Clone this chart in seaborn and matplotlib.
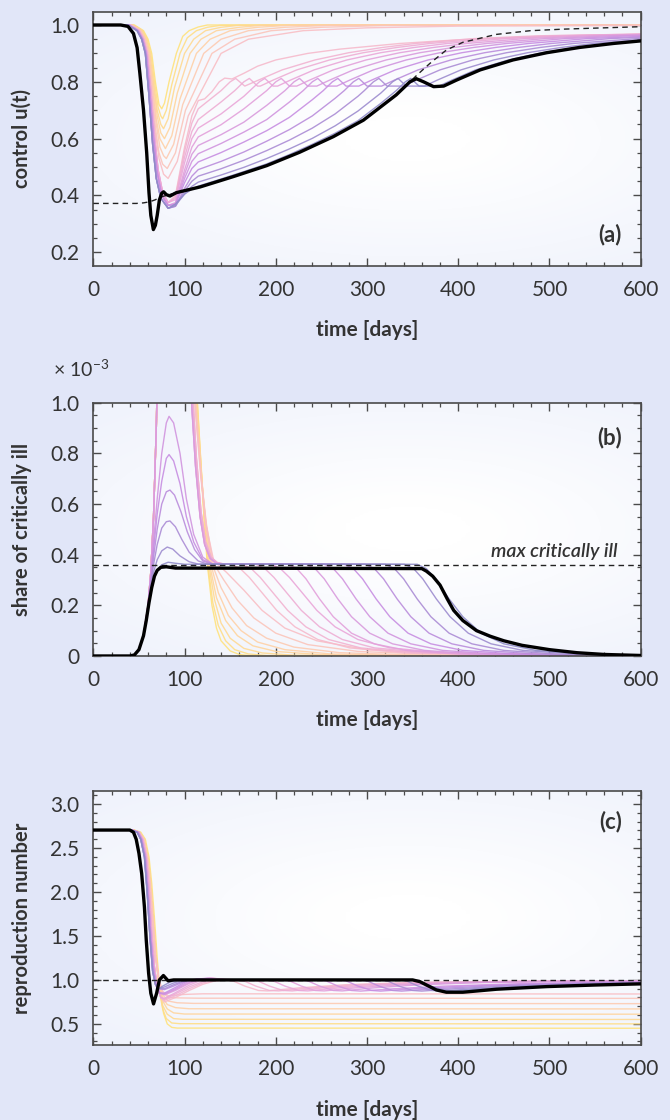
import numpy as np
import pandas as pd
import matplotlib
matplotlib.use('Agg')
import matplotlib.pyplot as plt
from matplotlib.colors import LinearSegmentedColormap
from matplotlib.ticker import MultipleLocator
import seaborn as sns

# ---------------- data ----------------
x_ticks = [0, 100, 200, 300, 400, 500, 600]
u_ticks = [0.2, 0.4, 0.6, 0.8, 1.0]
u_tick_labels = ['0.2', '0.4', '0.6', '0.8', '1.0']
ill_ticks = [0, 0.2, 0.4, 0.6, 0.8, 1.0]
ill_tick_labels = ['0', '0.2', '0.4', '0.6', '0.8', '1.0']
r_ticks = [0.5, 1.0, 1.5, 2.0, 2.5, 3.0]
r_tick_labels = ['0.5', '1.0', '1.5', '2.0', '2.5', '3.0']

ill_max = 0.36      # x 1e-3
r_critical = 1.0

# (a) control u(t): optimal solution (black) and dashed reference
u_black = [(0, 1.0), (30, 1.0), (38, 0.995), (44, 0.97), (48, 0.92), (51, 0.83), (55, 0.70),
           (58.5, 0.55), (61, 0.41), (63, 0.33), (65.8, 0.28), (68, 0.295), (70, 0.33),
           (72.4, 0.384), (75, 0.408), (77, 0.413), (80, 0.403), (84, 0.398), (91, 0.41),
           (117, 0.43), (153, 0.466), (190, 0.505), (226, 0.552), (263, 0.607), (296, 0.665),
           (332, 0.754), (347, 0.80), (354, 0.811), (362, 0.80), (373, 0.783), (384, 0.785),
           (398, 0.806), (424, 0.842), (460, 0.877), (497, 0.9025), (533, 0.921), (570, 0.935),
           (600, 0.944)]
u_dashed = [(0, 0.372), (47, 0.372), (55, 0.374), (62, 0.378), (68, 0.385), (73, 0.394),
            (80, 0.40), (91, 0.41), (117, 0.43), (153, 0.466), (190, 0.505), (226, 0.552),
            (263, 0.607), (296, 0.665), (332, 0.754), (347, 0.80), (356, 0.8275), (369, 0.865),
            (387, 0.912), (405, 0.939), (442, 0.967), (479, 0.98), (516, 0.9855), (560, 0.99),
            (600, 0.994)]

u_drop_a = [(0, 1.0), (40, 1.0), (50, 0.98), (55, 0.95), (59, 0.9), (63, 0.77), (67, 0.61),
            (71, 0.49), (76, 0.41), (82, 0.375)]
u_drop_b = [(0, 1.0), (39, 1.0), (49, 0.98), (54, 0.95), (58, 0.9), (62, 0.76), (66, 0.6),
            (70, 0.48), (75, 0.4), (82, 0.365)]
u_drop_c = [(0, 1.0), (38, 1.0), (48, 0.98), (53, 0.95), (57, 0.9), (61, 0.75), (65, 0.58),
            (69, 0.46), (74, 0.39), (82, 0.355)]

u_family = [
    [(0, 1.0), (45, 1.0), (55, 0.98), (60, 0.95), (64, 0.9), (68, 0.8), (72, 0.72), (75, 0.705),
     (78, 0.725), (83, 0.8), (91, 0.9), (98, 0.96), (105, 0.98), (115, 0.993), (125, 1.0), (600, 1.0)],
    [(0, 1.0), (44, 1.0), (54, 0.98), (59, 0.95), (63, 0.9), (67, 0.8), (71, 0.71), (74, 0.68),
     (76, 0.67), (80, 0.7), (86, 0.79), (95, 0.9), (103, 0.955), (113, 0.98), (125, 0.992),
     (140, 0.999), (600, 1.0)],
    [(0, 1.0), (43, 1.0), (53, 0.98), (58, 0.95), (62, 0.9), (66, 0.8), (70, 0.7), (74, 0.65),
     (77, 0.635), (82, 0.67), (89, 0.78), (100, 0.9), (110, 0.95), (123, 0.98), (140, 0.992),
     (160, 0.999), (600, 1.0)],
    [(0, 1.0), (43, 1.0), (53, 0.98), (58, 0.95), (62, 0.9), (66, 0.79), (70, 0.68), (74, 0.62),
     (78, 0.6), (84, 0.64), (92, 0.76), (106, 0.9), (118, 0.95), (135, 0.98), (160, 0.992),
     (185, 0.999), (600, 1.0)],
    [(0, 1.0), (42, 1.0), (52, 0.98), (57, 0.95), (61, 0.9), (65, 0.79), (69, 0.67), (73, 0.6),
     (79, 0.565), (86, 0.61), (95, 0.74), (113, 0.9), (128, 0.95), (150, 0.98), (180, 0.992),
     (215, 0.999), (600, 1.0)],
    [(0, 1.0), (42, 1.0), (52, 0.98), (57, 0.95), (61, 0.9), (65, 0.78), (69, 0.65), (73, 0.57),
     (77, 0.54), (80, 0.53), (88, 0.58), (98, 0.72), (121, 0.9), (140, 0.95), (170, 0.98),
     (210, 0.992), (260, 0.999), (600, 1.0)],
    [(0, 1.0), (41, 1.0), (51, 0.98), (56, 0.95), (60, 0.9), (64, 0.78), (68, 0.64), (72, 0.55),
     (76, 0.51), (81, 0.495), (90, 0.55), (101, 0.7), (130, 0.9), (155, 0.95), (195, 0.98),
     (250, 0.992), (320, 0.998), (600, 1.0)],
    [(0, 1.0), (41, 1.0), (51, 0.98), (56, 0.95), (60, 0.9), (64, 0.77), (68, 0.62), (72, 0.53),
     (77, 0.475), (82, 0.46), (92, 0.52), (104, 0.68), (140, 0.9), (170, 0.95), (230, 0.98),
     (300, 0.99), (400, 0.996), (600, 0.998)],
    u_drop_a + [(90, 0.40), (100, 0.57), (108, 0.68), (115, 0.734), (122, 0.74), (130, 0.765),
                (138, 0.80), (144, 0.813), (152, 0.81), (165, 0.83), (180, 0.855), (200, 0.877),
                (235, 0.90), (270, 0.915), (336, 0.935), (400, 0.948), (450, 0.955), (520, 0.962),
                (600, 0.967)],
    u_drop_a + [(90, 0.395), (100, 0.555), (108, 0.655), (115, 0.705), (140, 0.769), (150, 0.80),
                (156, 0.812), (166, 0.785), (181, 0.806), (207, 0.842), (243, 0.877), (280, 0.9025),
                (317, 0.921), (353, 0.935), (417, 0.952), (487, 0.962), (600, 0.968)],
    u_drop_a + [(90, 0.39), (100, 0.535), (108, 0.625), (115, 0.667), (140, 0.729), (155, 0.769),
                (165, 0.80), (171, 0.812), (180, 0.785), (183, 0.785), (197, 0.806), (223, 0.842),
                (259, 0.877), (296, 0.9025), (333, 0.921), (369, 0.935), (433, 0.952), (503, 0.962),
                (600, 0.968)],
    u_drop_a + [(90, 0.385), (100, 0.515), (108, 0.60), (115, 0.637), (140, 0.687), (165, 0.749),
                (182, 0.80), (188, 0.812), (197, 0.785), (202, 0.785), (216, 0.806), (242, 0.842),
                (278, 0.877), (315, 0.9025), (352, 0.921), (388, 0.935), (452, 0.952), (522, 0.962),
                (600, 0.967)],
    u_drop_b + [(90, 0.375), (100, 0.49), (108, 0.57), (115, 0.606), (140, 0.649), (165, 0.705),
                (190, 0.769), (200, 0.80), (206, 0.812), (215, 0.785), (223, 0.785), (237, 0.806),
                (263, 0.842), (299, 0.877), (336, 0.9025), (373, 0.921), (409, 0.935), (473, 0.952),
                (543, 0.962), (600, 0.966)],
    u_drop_b + [(90, 0.372), (100, 0.475), (108, 0.545), (115, 0.576), (140, 0.614), (165, 0.658),
                (190, 0.717), (210, 0.769), (220, 0.80), (226, 0.812), (235, 0.785), (245, 0.785),
                (259, 0.806), (285, 0.842), (321, 0.877), (358, 0.9025), (395, 0.921), (431, 0.935),
                (495, 0.952), (565, 0.962), (600, 0.965)],
    u_drop_b + [(90, 0.37), (100, 0.46), (108, 0.52), (115, 0.547), (140, 0.583), (165, 0.623),
                (190, 0.667), (215, 0.729), (230, 0.769), (240, 0.80), (246, 0.812), (255, 0.785),
                (267, 0.785), (281, 0.806), (307, 0.842), (343, 0.877), (380, 0.9025), (417, 0.921),
                (453, 0.935), (517, 0.952), (587, 0.962), (600, 0.963)],
    u_drop_b + [(90, 0.368), (100, 0.445), (108, 0.495), (115, 0.518), (140, 0.551), (165, 0.588),
                (190, 0.628), (215, 0.675), (240, 0.737), (252, 0.769), (262, 0.80), (268, 0.812),
                (277, 0.785), (291, 0.785), (305, 0.806), (331, 0.842), (367, 0.877), (404, 0.9025),
                (441, 0.921), (477, 0.935), (541, 0.952), (600, 0.96)],
    u_drop_c + [(90, 0.362), (100, 0.425), (108, 0.468), (115, 0.491), (140, 0.52), (165, 0.553),
                (190, 0.591), (215, 0.632), (240, 0.68), (265, 0.742), (275, 0.769), (285, 0.80),
                (291, 0.812), (300, 0.785), (316, 0.785), (330, 0.806), (356, 0.842), (392, 0.877),
                (429, 0.9025), (466, 0.921), (502, 0.935), (566, 0.952), (600, 0.957)],
    u_drop_c + [(90, 0.362), (100, 0.415), (108, 0.45), (115, 0.468), (140, 0.494), (165, 0.524),
                (190, 0.558), (215, 0.595), (240, 0.637), (265, 0.687), (290, 0.749), (297, 0.769),
                (307, 0.80), (313, 0.812), (322, 0.785), (340, 0.785), (354, 0.806), (380, 0.842),
                (416, 0.877), (453, 0.9025), (490, 0.921), (526, 0.935), (600, 0.953)],
    u_drop_c + [(90, 0.365), (100, 0.405), (108, 0.432), (115, 0.447), (140, 0.472), (165, 0.499),
                (190, 0.53), (215, 0.564), (240, 0.601), (265, 0.645), (290, 0.697), (315, 0.76),
                (318, 0.769), (328, 0.80), (334, 0.812), (343, 0.785), (363, 0.785), (377, 0.806),
                (403, 0.842), (439, 0.877), (476, 0.9025), (513, 0.921), (549, 0.935), (600, 0.948)],
    u_drop_c + [(90, 0.37), (100, 0.405), (108, 0.422), (115, 0.433), (140, 0.458), (165, 0.484),
                (190, 0.511), (215, 0.544), (240, 0.58), (265, 0.619), (290, 0.663), (315, 0.724),
                (332, 0.769), (342, 0.80), (348, 0.812), (357, 0.785), (379, 0.785), (393, 0.806),
                (419, 0.842), (455, 0.877), (492, 0.9025), (529, 0.921), (565, 0.935), (600, 0.945)],
]

# (b) share of critically ill, in units of 1e-3
ill_black = [(0, 0), (40, 0), (45, 0.004), (50, 0.025), (55, 0.08), (58, 0.14), (61, 0.21),
             (64, 0.27), (67, 0.315), (70, 0.338), (74, 0.35), (80, 0.352), (90, 0.347),
             (360, 0.345), (365, 0.335), (372, 0.315), (380, 0.28), (388, 0.225), (395, 0.18),
             (405, 0.14), (420, 0.10), (435, 0.078), (450, 0.06), (470, 0.042), (500, 0.025),
             (530, 0.013), (560, 0.006), (600, 0.002)]
ill_rise = [(0, 0), (40, 0), (45, 0.005), (50, 0.025), (55, 0.08), (60, 0.2), (63, 0.33),
            (66, 0.55), (69, 0.9), (72, 1.4), (80, 2.2)]
ill_start = [(0, 0), (40, 0), (45, 0.005), (50, 0.025), (55, 0.08)]

ill_family = [
    ill_rise + [(105, 1.6), (110, 1.25), (114, 1.0), (118, 0.75), (122, 0.5), (125, 0.36), (130, 0.2),
                (135, 0.11), (140, 0.06), (150, 0.02), (160, 0.006), (175, 0.0), (600, 0.0)],
    ill_rise + [(105, 1.6), (110, 1.25), (114, 1.0), (118, 0.76), (122, 0.52), (125.5, 0.36),
                (131, 0.21), (137, 0.12), (145, 0.06), (155, 0.025), (170, 0.008), (190, 0.002),
                (600, 0.0)],
    ill_rise + [(105, 1.55), (110, 1.2), (113.5, 1.0), (118, 0.75), (122, 0.53), (126.5, 0.36),
                (133, 0.22), (140, 0.13), (150, 0.07), (165, 0.03), (185, 0.012), (220, 0.003),
                (600, 0.0)],
    ill_rise + [(105, 1.5), (110, 1.18), (113, 1.0), (118, 0.74), (122, 0.54), (127.5, 0.36),
                (135, 0.23), (145, 0.14), (158, 0.08), (175, 0.04), (200, 0.018), (250, 0.005),
                (600, 0.0)],
    ill_rise + [(105, 1.45), (109, 1.18), (112.5, 1.0), (118, 0.73), (123, 0.53), (129, 0.36),
                (137, 0.25), (148, 0.16), (162, 0.1), (180, 0.055), (210, 0.025), (260, 0.008),
                (350, 0.002), (600, 0.0)],
    ill_rise + [(105, 1.4), (109, 1.15), (112, 1.0), (118, 0.72), (123, 0.53), (130, 0.365),
                (140, 0.27), (152, 0.19), (168, 0.12), (190, 0.07), (220, 0.035), (270, 0.013),
                (350, 0.004), (600, 0.001)],
    ill_rise + [(104, 1.4), (108, 1.15), (111.5, 1.0), (118, 0.71), (124, 0.52), (131, 0.37),
                (143, 0.3), (158, 0.22), (176, 0.15), (200, 0.09), (235, 0.045), (290, 0.018),
                (380, 0.005), (600, 0.001)],
    ill_rise + [(104, 1.35), (108, 1.12), (111, 1.0), (118, 0.7), (124, 0.51), (132, 0.375),
                (146, 0.33), (165, 0.26), (185, 0.18), (210, 0.11), (245, 0.06), (300, 0.025),
                (400, 0.007), (600, 0.001)],
    ill_rise + [(105, 1.3), (109, 1.02), (113, 0.78), (118, 0.57), (123, 0.45), (129, 0.39),
                (136, 0.368), (145, 0.362), (151, 0.362), (161, 0.345), (171, 0.31), (186, 0.245),
                (201, 0.18), (221, 0.115), (246, 0.065), (281, 0.032), (341, 0.012), (600, 0.001)],
    ill_rise + [(105, 1.3), (109, 1.02), (113, 0.78), (118, 0.57), (123, 0.45), (129, 0.39),
                (136, 0.368), (145, 0.362), (163, 0.362), (173, 0.345), (183, 0.31), (198, 0.245),
                (213, 0.18), (233, 0.115), (258, 0.065), (293, 0.032), (353, 0.012), (600, 0.001)],
    ill_rise + [(105, 1.3), (109, 1.02), (113, 0.78), (118, 0.57), (123, 0.45), (129, 0.39),
                (136, 0.368), (145, 0.362), (178, 0.362), (188, 0.345), (198, 0.31), (213, 0.245),
                (228, 0.18), (248, 0.115), (273, 0.065), (308, 0.032), (368, 0.012), (600, 0.001)],
    ill_rise + [(104, 1.25), (108, 0.98), (112, 0.75), (117, 0.55), (122, 0.44), (128, 0.385),
                (135, 0.366), (145, 0.362), (195, 0.362), (205, 0.345), (215, 0.31), (230, 0.245),
                (245, 0.18), (265, 0.115), (290, 0.065), (325, 0.032), (385, 0.012), (600, 0.001)],
    ill_rise + [(104, 1.25), (108, 0.98), (112, 0.75), (117, 0.55), (122, 0.44), (128, 0.385),
                (135, 0.366), (145, 0.362), (213, 0.362), (223, 0.345), (233, 0.305), (248, 0.225),
                (263, 0.155), (283, 0.09), (308, 0.048), (343, 0.022), (403, 0.007), (600, 0.001)],
    ill_rise + [(104, 1.25), (108, 0.98), (112, 0.75), (117, 0.55), (122, 0.44), (128, 0.385),
                (135, 0.366), (145, 0.362), (233, 0.362), (243, 0.345), (253, 0.305), (268, 0.225),
                (283, 0.155), (303, 0.09), (328, 0.048), (363, 0.022), (423, 0.007), (600, 0.001)],
    ill_start + [(60, 0.2), (63, 0.31), (66, 0.45), (70, 0.62), (75, 0.8), (80, 0.92), (83, 0.946),
                 (88, 0.92), (95, 0.8), (102, 0.62), (110, 0.48), (120, 0.39), (130, 0.365),
                 (140, 0.362), (253, 0.362), (263, 0.345), (273, 0.305), (288, 0.225), (303, 0.155),
                 (323, 0.09), (348, 0.048), (383, 0.022), (443, 0.007), (600, 0.001)],
    ill_start + [(60, 0.2), (63, 0.3), (66, 0.42), (70, 0.56), (75, 0.69), (80, 0.78), (83, 0.795),
                 (88, 0.77), (95, 0.68), (102, 0.55), (110, 0.45), (120, 0.38), (130, 0.364),
                 (140, 0.362), (275, 0.362), (285, 0.345), (295, 0.305), (310, 0.225), (325, 0.155),
                 (345, 0.09), (370, 0.048), (405, 0.022), (465, 0.007), (600, 0.001)],
    ill_start + [(60, 0.2), (63, 0.29), (66, 0.39), (70, 0.5), (75, 0.6), (80, 0.648), (84, 0.655),
                 (89, 0.635), (96, 0.57), (103, 0.49), (111, 0.42), (120, 0.375), (130, 0.363),
                 (298, 0.362), (308, 0.345), (318, 0.305), (333, 0.225), (348, 0.155), (368, 0.09),
                 (393, 0.048), (428, 0.022), (488, 0.007), (600, 0.001)],
    ill_start + [(60, 0.19), (63, 0.28), (66, 0.36), (70, 0.44), (75, 0.505), (80, 0.53), (84, 0.533),
                 (90, 0.51), (97, 0.46), (105, 0.41), (115, 0.375), (125, 0.363), (320, 0.362),
                 (330, 0.345), (340, 0.305), (355, 0.225), (370, 0.155), (390, 0.09), (415, 0.048),
                 (450, 0.022), (510, 0.007), (600, 0.001)],
    ill_start + [(60, 0.19), (63, 0.27), (66, 0.33), (70, 0.38), (75, 0.415), (81, 0.43), (87, 0.422),
                 (95, 0.395), (105, 0.372), (115, 0.363), (341, 0.362), (351, 0.345), (361, 0.305),
                 (376, 0.225), (391, 0.155), (411, 0.09), (436, 0.048), (471, 0.022), (531, 0.007),
                 (600, 0.001)],
    ill_start + [(60, 0.18), (63, 0.25), (66, 0.305), (70, 0.34), (75, 0.36), (82, 0.37), (90, 0.366),
                 (100, 0.362), (355, 0.362), (365, 0.345), (375, 0.305), (390, 0.225), (405, 0.155),
                 (425, 0.09), (450, 0.048), (485, 0.022), (545, 0.007), (600, 0.001)],
]

# (c) reproduction number
r_black = [(0, 2.705), (40, 2.705), (44, 2.68), (47, 2.6), (50, 2.44), (53, 2.21), (56, 1.83),
           (58, 1.455), (60.6, 1.076), (63, 0.848), (66, 0.727), (69.4, 0.85), (72.4, 1.0),
           (76.8, 1.05), (82, 0.99), (88, 1.0), (350, 1.0), (358, 0.98), (365, 0.943),
           (376, 0.886), (387, 0.86), (405, 0.86), (442, 0.894), (497, 0.924), (550, 0.942),
           (600, 0.955)]

r_drop_y = [(0, 2.705), (45, 2.705), (52, 2.68), (57, 2.6), (61, 2.4), (64, 2.1), (67, 1.7), (70, 1.25)]
r_drop_p = [(0, 2.705), (44, 2.705), (51, 2.68), (56, 2.6), (60, 2.4), (63, 2.1), (66, 1.7), (69, 1.25)]
r_drop_q = [(0, 2.705), (43, 2.705), (50, 2.68), (55, 2.6), (59, 2.4), (62, 2.1), (65, 1.7), (68, 1.27)]
r_drop_a = [(0, 2.705), (43, 2.705), (50, 2.68), (54, 2.6), (58, 2.4), (61, 2.05), (64, 1.55),
            (67, 1.15), (70, 0.92), (74, 0.8)]
r_drop_b = [(0, 2.705), (42, 2.705), (49, 2.68), (53, 2.6), (57, 2.4), (60, 2.0), (63, 1.5),
            (66, 1.12), (69, 0.93), (73, 0.85)]
r_drop_c = [(0, 2.705), (41, 2.705), (48, 2.68), (52, 2.6), (56, 2.4), (59, 2.0), (62, 1.5),
            (65, 1.1), (68, 0.95), (72, 0.9)]

r_family = [
    r_drop_y + [(73, 0.88), (77, 0.62), (81, 0.5), (86, 0.46), (92, 0.452), (600, 0.45)],
    r_drop_p + [(72, 0.9), (76, 0.67), (80, 0.56), (86, 0.51), (95, 0.502), (600, 0.5)],
    r_drop_p + [(72, 0.92), (76, 0.71), (81, 0.61), (88, 0.56), (98, 0.552), (600, 0.55)],
    r_drop_p + [(72, 0.94), (76, 0.76), (81, 0.67), (88, 0.625), (100, 0.612), (600, 0.61)],
    r_drop_q + [(72, 0.96), (76, 0.8), (81, 0.72), (90, 0.685), (105, 0.672), (600, 0.67)],
    r_drop_q + [(72, 0.98), (76, 0.83), (82, 0.76), (92, 0.74), (110, 0.733), (600, 0.73)],
    r_drop_q + [(72, 1.0), (76, 0.86), (82, 0.8), (95, 0.795), (115, 0.792), (600, 0.79)],
    r_drop_q + [(72, 1.0), (76, 0.87), (82, 0.82), (100, 0.835), (120, 0.842), (600, 0.84)],
    r_drop_a + [(78, 0.75), (90, 0.8), (105, 0.88), (120, 0.95), (132, 0.985), (140, 0.995),
                (146, 1.0), (154, 0.985), (166, 0.93), (181, 0.88), (191, 0.875), (226, 0.91),
                (276, 0.945), (346, 0.97), (446, 0.984), (600, 0.99)],
    r_drop_a + [(78, 0.77), (90, 0.82), (105, 0.9), (120, 0.965), (135, 1.005), (150, 1.0),
                (158, 1.0), (166, 0.985), (178, 0.93), (193, 0.88), (203, 0.875), (238, 0.91),
                (288, 0.945), (358, 0.97), (458, 0.984), (600, 0.99)],
    r_drop_a + [(78, 0.78), (90, 0.84), (105, 0.92), (120, 0.98), (132, 1.015), (145, 1.005),
                (160, 1.0), (173, 1.0), (181, 0.985), (193, 0.93), (208, 0.88), (218, 0.875),
                (253, 0.91), (303, 0.945), (373, 0.97), (473, 0.984), (600, 0.99)],
    r_drop_a + [(78, 0.79), (90, 0.855), (105, 0.94), (118, 0.995), (130, 1.02), (145, 1.005),
                (160, 1.0), (190, 1.0), (198, 0.985), (210, 0.93), (225, 0.88), (235, 0.875),
                (270, 0.91), (320, 0.945), (390, 0.97), (490, 0.984), (600, 0.99)],
    r_drop_b + [(78, 0.83), (90, 0.88), (105, 0.96), (118, 1.005), (128, 1.022), (142, 1.005),
                (155, 1.0), (208, 1.0), (216, 0.985), (228, 0.93), (243, 0.88), (253, 0.875),
                (288, 0.91), (338, 0.945), (408, 0.97), (508, 0.984), (600, 0.989)],
    r_drop_b + [(78, 0.835), (90, 0.89), (105, 0.97), (117, 1.01), (127, 1.02), (140, 1.003),
                (155, 1.0), (228, 1.0), (236, 0.985), (248, 0.93), (263, 0.88), (273, 0.875),
                (308, 0.91), (358, 0.945), (428, 0.97), (528, 0.984), (600, 0.988)],
    r_drop_b + [(78, 0.84), (90, 0.9), (103, 0.975), (115, 1.012), (125, 1.018), (138, 1.002),
                (150, 1.0), (248, 1.0), (256, 0.985), (268, 0.93), (283, 0.88), (293, 0.873),
                (330, 0.9), (385, 0.93), (470, 0.958), (570, 0.975), (600, 0.978)],
    r_drop_b + [(78, 0.85), (90, 0.915), (102, 0.985), (113, 1.012), (122, 1.012), (135, 1.0),
                (270, 1.0), (278, 0.985), (290, 0.93), (305, 0.88), (315, 0.873), (352, 0.9),
                (407, 0.93), (492, 0.958), (592, 0.975), (600, 0.976)],
    r_drop_c + [(78, 0.89), (88, 0.93), (98, 0.975), (108, 1.0), (118, 1.005), (130, 1.0),
                (293, 1.0), (301, 0.985), (313, 0.93), (328, 0.88), (338, 0.873), (375, 0.9),
                (430, 0.93), (515, 0.958), (600, 0.972)],
    r_drop_c + [(78, 0.9), (88, 0.945), (98, 0.985), (108, 1.0), (315, 1.0), (323, 0.985),
                (335, 0.93), (350, 0.88), (360, 0.873), (397, 0.9), (452, 0.93), (537, 0.958),
                (600, 0.969)],
    r_drop_c + [(78, 0.92), (88, 0.965), (96, 0.99), (105, 1.0), (336, 1.0), (344, 0.985),
                (356, 0.93), (371, 0.88), (381, 0.873), (418, 0.9), (473, 0.93), (558, 0.958),
                (600, 0.965)],
    r_drop_c + [(76, 0.93), (84, 0.975), (92, 0.995), (100, 1.0), (350, 1.0), (358, 0.985),
                (370, 0.93), (385, 0.88), (395, 0.873), (432, 0.9), (487, 0.93), (572, 0.958),
                (600, 0.962)],
]

# ---------------- style ----------------
sns.set_theme(style='ticks')
plt.rcParams['font.family'] = ['Lato', 'DejaVu Sans']
plt.rcParams['mathtext.fontset'] = 'custom'
plt.rcParams['mathtext.rm'] = 'Lato'
plt.rcParams['mathtext.it'] = 'Lato:italic'
plt.rcParams['mathtext.bf'] = 'Lato:bold'

TXT = '#333333'
EDGE = '#4a4a4a'
fan_cmap = LinearSegmentedColormap.from_list(
    'fan', ['#FFE27D', '#FFD2A6', '#F8BCCB', '#E8A5DA', '#C68DE2', '#8F8BC8'])
face_cmap = LinearSegmentedColormap.from_list('face', ['#FFFFFF', '#F0F3FC'])


def family_frame(curves):
    rows = []
    for i, curve in enumerate(curves):
        for t, v in curve:
            rows.append((f'c{i:02d}', t, v))
    return pd.DataFrame(rows, columns=['curve', 't', 'v'])


def family_palette(curves):
    n = len(curves)
    return {f'c{i:02d}': fan_cmap(i / (n - 1)) for i in range(n)}


def soft_face(ax):
    yy, xx = np.mgrid[-1:1:120j, -1:1:120j]
    r = np.hypot((xx - 0.15) * 0.8, yy * 1.0)
    ax.imshow(np.clip(r, 0, 1.3), extent=(0, 1, 0, 1), transform=ax.transAxes,
              cmap=face_cmap, vmin=0.2, vmax=1.3, aspect='auto', zorder=0,
              interpolation='bicubic')


def style_axis(ax, yticks, ylabels, ylim, yminor, ylabel):
    ax.set_xlim(0, 600)
    ax.set_ylim(*ylim)
    ax.set_xticks(x_ticks)
    ax.set_xticklabels([str(v) for v in x_ticks])
    ax.xaxis.set_minor_locator(MultipleLocator(20))
    ax.set_yticks(yticks)
    ax.set_yticklabels(ylabels)
    ax.yaxis.set_minor_locator(MultipleLocator(yminor))
    ax.tick_params(which='both', direction='in', top=True, right=True,
                   color=EDGE, labelcolor=TXT, labelsize=15)
    ax.tick_params(which='major', length=5.5, width=1.0, pad=10)
    ax.tick_params(which='minor', length=3.0, width=0.9)
    for s in ax.spines.values():
        s.set_color(EDGE)
        s.set_linewidth(1.2)
    ax.set_xlabel('time [days]', fontsize=15, fontweight='bold', color=TXT)
    ax.set_ylabel(ylabel, fontsize=14.5, fontweight='bold', color=TXT)
    ax.xaxis.set_label_coords(0.5, -0.215)
    ax.yaxis.set_label_coords(-0.112, 0.5)


def draw_panel(ax, curves, black, zlevel=2):
    soft_face(ax)
    sns.lineplot(data=family_frame(curves), x='t', y='v', hue='curve',
                 palette=family_palette(curves), estimator=None, sort=False,
                 legend=False, lw=1.0, alpha=0.9, ax=ax, zorder=zlevel)
    bt, bv = zip(*black)
    sns.lineplot(x=list(bt), y=list(bv), color='black', lw=2.4, estimator=None,
                 sort=False, ax=ax, zorder=5)


fig = plt.figure(figsize=(6.7, 11.2), dpi=100, facecolor='#E1E6F8')
ax_a = fig.add_axes([0.1393, 0.7628, 0.817, 0.2263])
ax_b = fig.add_axes([0.1393, 0.4143, 0.817, 0.2262])
ax_c = fig.add_axes([0.1393, 0.0670, 0.817, 0.2268])

# (a)
draw_panel(ax_a, u_family, u_black)
dt, dv = zip(*u_dashed)
sns.lineplot(x=list(dt), y=list(dv), color='#222222', lw=1.0, estimator=None, sort=False,
             linestyle=(0, (4, 3)), ax=ax_a, zorder=4)
style_axis(ax_a, u_ticks, u_tick_labels, (0.153, 1.045), 0.05, 'control u(t)')
ax_a.text(0.966, 0.121, '(a)', transform=ax_a.transAxes, ha='right', va='center',
          fontsize=16, fontweight='bold', color=TXT)

# (b)
draw_panel(ax_b, ill_family, ill_black)
ax_b.axhline(ill_max, color='#222222', lw=1.0, linestyle=(0, (4, 3)), zorder=4)
style_axis(ax_b, ill_ticks, ill_tick_labels, (0, 1.0), 0.05, 'share of critically ill')
ax_b.text(575, 0.392, 'max critically ill', ha='right', va='baseline', fontsize=14,
          fontstyle='italic', fontweight='semibold', color=TXT)
ax_b.text(0.966, 0.8626, '(b)', transform=ax_b.transAxes, ha='right', va='center',
          fontsize=16, fontweight='bold', color=TXT)
fig.text(0.079, 0.6634, r'× 10$^{\mathregular{-3}}$', ha='left', va='baseline',
         fontsize=14, color=TXT)

# (c)
draw_panel(ax_c, r_family, r_black)
ax_c.axhline(r_critical, color='#222222', lw=1.0, linestyle=(0, (4, 3)), zorder=4)
style_axis(ax_c, r_ticks, r_tick_labels, (0.26, 3.15), 0.1, 'reproduction number')
ax_c.text(0.966, 0.878, '(c)', transform=ax_c.transAxes, ha='right', va='center',
          fontsize=16, fontweight='bold', color=TXT)

fig.savefig('out.png', dpi=100, facecolor=fig.get_facecolor())
